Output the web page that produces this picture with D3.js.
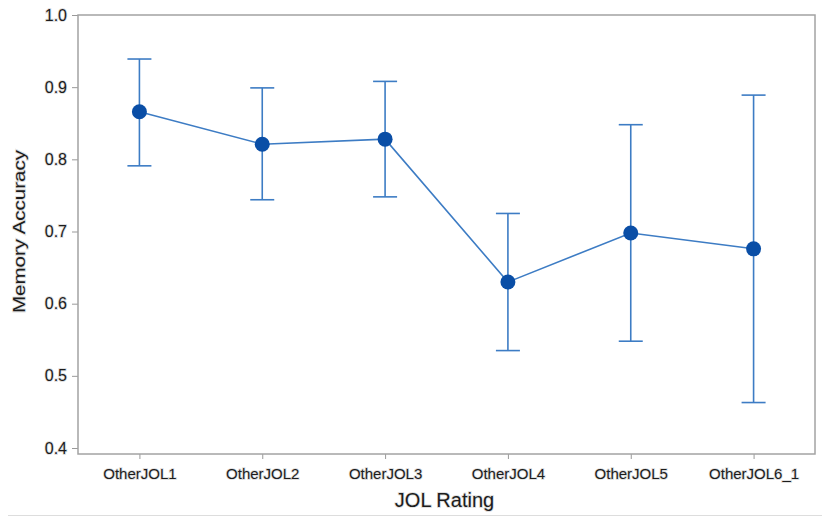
<!DOCTYPE html>
<html>
<head>
<meta charset="utf-8">
<script src="https://cdn.jsdelivr.net/npm/d3@7"></script>
<style>
  body { margin: 0; background: #fff; }
  text {
    font-family: "Liberation Sans", Arial, sans-serif;
    fill: #1c1c1c;
    stroke: rgba(0,0,0,0.13);
    stroke-width: 2px;
    paint-order: stroke;
  }
</style>
</head>
<body>
<div id="chart"></div>
<script>
// chart values
const categories = ["OtherJOL1", "OtherJOL2", "OtherJOL3", "OtherJOL4", "OtherJOL5", "OtherJOL6_1"];
const means = [0.866, 0.821, 0.828, 0.630, 0.698, 0.676];
const upper = [0.939, 0.899, 0.908, 0.725, 0.848, 0.889];
const lower = [0.791, 0.744, 0.748, 0.535, 0.548, 0.463];
const yTicks = [0.4, 0.5, 0.6, 0.7, 0.8, 0.9, 1.0];

const width = 822, height = 519;
const margin = {top: 15, right: 7, bottom: 65, left: 78};
const innerW = width - margin.left - margin.right;
const innerH = height - margin.top - margin.bottom;

const svg = d3.select("#chart").append("svg")
    .attr("width", width)
    .attr("height", height);

const g = svg.append("g")
    .attr("transform", `translate(${margin.left},${margin.top})`);

const x = d3.scalePoint()
    .domain(categories)
    .range([0, innerW])
    .padding(0.5);

// top of the frame is 1.0, bottom sits a bit under 0.4
const y = d3.scaleLinear()
    .domain([0.3917, 1.0])
    .range([innerH, 0]);

const data = categories.map((c, i) => ({cat: c, m: means[i], hi: upper[i], lo: lower[i]}));

// axes
const yAxis = g.append("g")
    .call(d3.axisLeft(y).tickValues(yTicks).tickFormat(d3.format(".1f")).tickSize(6).tickPadding(5));
yAxis.select(".domain").remove();
yAxis.selectAll("line").attr("stroke", "#999");
yAxis.selectAll("text").style("font-size", "16px").attr("fill", "#1c1c1c");

const xAxis = g.append("g")
    .attr("transform", `translate(0,${innerH})`)
    .call(d3.axisBottom(x).tickSize(5).tickPadding(9));
xAxis.select(".domain").remove();
xAxis.selectAll("line").attr("stroke", "#999");
xAxis.selectAll("text").style("font-size", "15px").attr("fill", "#1c1c1c");

// frame
g.append("rect")
    .attr("x", 0).attr("y", 0)
    .attr("width", innerW).attr("height", innerH)
    .attr("fill", "none")
    .attr("stroke", "#a3a3a3")
    .attr("stroke-width", 1.5);

// error bars
const bars = g.append("g").attr("stroke", "#3d7cc4").attr("stroke-width", 1.6);
bars.selectAll(".stem").data(data).join("line")
    .attr("x1", d => x(d.cat)).attr("x2", d => x(d.cat))
    .attr("y1", d => y(d.hi)).attr("y2", d => y(d.lo));
bars.selectAll(".capHi").data(data).join("line")
    .attr("x1", d => x(d.cat) - 12).attr("x2", d => x(d.cat) + 12)
    .attr("y1", d => y(d.hi)).attr("y2", d => y(d.hi));
bars.selectAll(".capLo").data(data).join("line")
    .attr("x1", d => x(d.cat) - 12).attr("x2", d => x(d.cat) + 12)
    .attr("y1", d => y(d.lo)).attr("y2", d => y(d.lo));

// connecting line
g.append("path")
    .datum(data)
    .attr("fill", "none")
    .attr("stroke", "#3d7cc4")
    .attr("stroke-width", 1.6)
    .attr("d", d3.line().x(d => x(d.cat)).y(d => y(d.m)));

// points
g.selectAll(".dot").data(data).join("circle")
    .attr("class", "dot")
    .attr("cx", d => x(d.cat))
    .attr("cy", d => y(d.m))
    .attr("r", 7.5)
    .attr("fill", "#0a4ea6");

// titles
svg.append("text")
    .attr("transform", `translate(25,${margin.top + innerH / 2 - 3}) rotate(-90)`)
    .attr("text-anchor", "middle")
    .attr("textLength", 163)
    .attr("lengthAdjust", "spacingAndGlyphs")
    .style("font-size", "17px")
    .text("Memory Accuracy");

svg.append("text")
    .attr("x", margin.left + innerW / 2 - 2)
    .attr("y", 507)
    .attr("text-anchor", "middle")
    .style("font-size", "20px")
    .text("JOL Rating");

// light separator at the bottom
svg.append("line")
    .attr("x1", 8).attr("x2", width)
    .attr("y1", 515.5).attr("y2", 515.5)
    .attr("stroke", "#ddd")
    .attr("stroke-width", 1);
</script>
</body>
</html>
